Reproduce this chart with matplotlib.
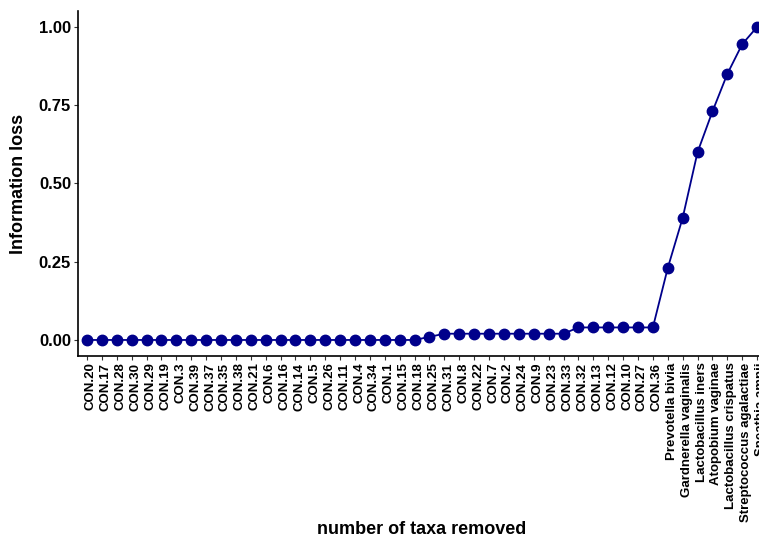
import numpy as np
import matplotlib
matplotlib.use('Agg')
import matplotlib.pyplot as plt
from matplotlib.transforms import ScaledTranslation

plt.rcParams['font.family'] = ['Liberation Sans', 'DejaVu Sans']
plt.rcParams['font.weight'] = 'bold'

# taxa in removal order
taxa = ['CON.20', 'CON.17', 'CON.28', 'CON.30', 'CON.29', 'CON.19', 'CON.3',
        'CON.39', 'CON.37', 'CON.35', 'CON.38', 'CON.21', 'CON.6', 'CON.16',
        'CON.14', 'CON.5', 'CON.26', 'CON.11', 'CON.4', 'CON.34', 'CON.1',
        'CON.15', 'CON.18', 'CON.25', 'CON.31', 'CON.8', 'CON.22', 'CON.7',
        'CON.2', 'CON.24', 'CON.9', 'CON.23', 'CON.33', 'CON.32', 'CON.13',
        'CON.12', 'CON.10', 'CON.27', 'CON.36',
        'Prevotella bivia', 'Gardnerella vaginalis', 'Lactobacillus iners',
        'Atopobium vaginae', 'Lactobacillus crispatus',
        'Streptococcus agalactiae', 'Sneathia amnii']

info_loss = [0.00] * 23 + [0.01] + [0.02] * 9 + [0.04] * 6 + \
            [0.23, 0.39, 0.60, 0.73, 0.85, 0.945, 1.00]

y_ticks = [0.00, 0.25, 0.50, 0.75, 1.00]

fig = plt.figure(figsize=(7.59, 5.38), dpi=100)
ax = fig.add_axes([0.1028, 0.339, 0.9065, 0.640])

x = np.arange(len(taxa))
ax.plot(x, info_loss, color='#00008B', lw=1.3, marker='o', ms=7.5,
        markeredgecolor='#00008B', clip_on=False, zorder=3)

ax.set_xlim(-0.6, len(taxa) - 0.4)
ax.set_ylim(-0.05, 1.05)
ax.set_xticks(x)
ax.set_xticklabels(taxa, rotation=90, fontsize=9.5, fontweight='bold')
ax.set_yticks(y_ticks)
ax.set_yticklabels([f'{v:.2f}' for v in y_ticks], fontsize=12, fontweight='bold')

for side in ['top', 'right']:
    ax.spines[side].set_visible(False)
for side in ['left', 'bottom']:
    ax.spines[side].set_linewidth(1.2)
    ax.spines[side].set_color('black')
ax.tick_params(axis='both', length=3, width=0.8, color='#333333', pad=2)

# rotated labels sit a little right of their ticks
offset = ScaledTranslation(0.04, 0, fig.dpi_scale_trans)
for lab in ax.get_xticklabels():
    lab.set_transform(lab.get_transform() + offset)

ax.set_xlabel('number of taxa removed', fontsize=13, fontweight='bold')
ax.set_ylabel('Information loss', fontsize=13, fontweight='bold')
ax.xaxis.set_label_coords(0.5, -0.481)
ax.yaxis.set_label_coords(-0.074, 0.5)

fig.savefig('out.png', dpi=100)
